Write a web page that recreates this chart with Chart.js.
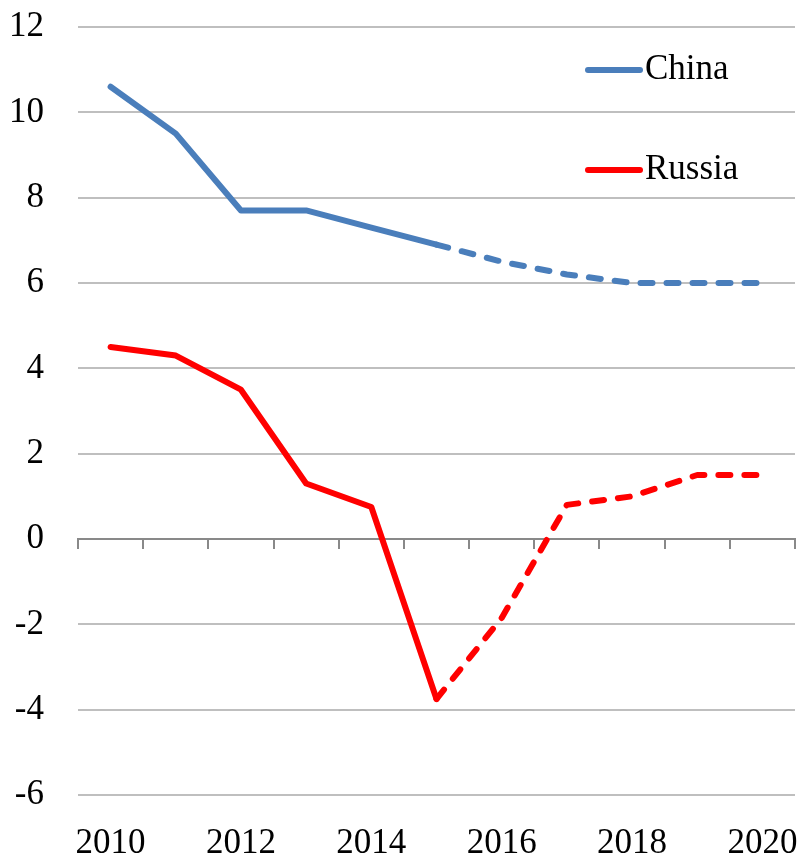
<!DOCTYPE html>
<html>
<head>
<meta charset="utf-8">
<script src="https://cdn.jsdelivr.net/npm/chart.js@4"></script>
<style>
  html, body { margin: 0; padding: 0; background: #fff; }
  #wrap { width: 800px; height: 853px; }
</style>
</head>
<body>
<div id="wrap"><canvas id="chart"></canvas></div>
<script>
const years = ['2010', '2011', '2012', '2013', '2014', '2015', '2016', '2017', '2018', '2019', '2020'];
const china = [10.6, 9.5, 7.7, 7.7, 7.3, 6.9, 6.5, 6.2, 6.0, 6.0, 6.0];
const russia = [4.5, 4.3, 3.5, 1.3, 0.75, -3.75, -1.85, 0.8, 1.0, 1.5, 1.5];
const forecastFrom = 5; // segments after 2015 are dashed

const font = { family: '"Liberation Serif", "DejaVu Serif", serif', size: 35 };

const dashed = ctx => ctx.p0DataIndex >= forecastFrom ? [12, 14] : undefined;

// kill the automatic label paddings so the plot box sits where we want
const noPad = s => {
    s.paddingLeft = 0; s.paddingRight = 0;
    s.paddingTop = 0; s.paddingBottom = 0;
};

// legend drawn inside the plot, top right
const insideLegend = {
    id: 'insideLegend',
    afterDraw(chart) {
        const c = chart.ctx;
        const rows = [70, 170];
        c.save();
        chart.data.datasets.forEach((ds, i) => {
            const y = rows[i];
            c.strokeStyle = ds.borderColor;
            c.lineWidth = 6;
            c.lineCap = 'round';
            c.beginPath();
            c.moveTo(588, y);
            c.lineTo(640, y);
            c.stroke();
            c.fillStyle = '#000';
            c.font = font.size + 'px ' + font.family;
            c.textBaseline = 'middle';
            c.textAlign = 'left';
            c.fillText(ds.label, 645, y);
        });
        c.restore();
    }
};

new Chart(document.getElementById('chart'), {
    type: 'line',
    data: {
        labels: years,
        datasets: [{
            label: 'China',
            data: china,
            borderColor: '#4A7EBB',
            borderWidth: 6,
            borderCapStyle: 'round',
            borderJoinStyle: 'round',
            pointRadius: 0,
            tension: 0,
            segment: { borderDash: dashed }
        }, {
            label: 'Russia',
            data: russia,
            borderColor: '#FF0000',
            borderWidth: 6,
            borderCapStyle: 'round',
            borderJoinStyle: 'round',
            pointRadius: 0,
            tension: 0,
            segment: { borderDash: dashed }
        }]
    },
    options: {
        responsive: true,
        maintainAspectRatio: false,
        animation: false,
        layout: { padding: { left: 12, right: 5, top: 27, bottom: 0 } },
        plugins: {
            legend: { display: false },
            tooltip: { enabled: false }
        },
        scales: {
            x: {
                type: 'category',
                offset: true,
                afterFit: s => { noPad(s); s.height = 58; },
                grid: { display: false },
                border: { display: false },
                ticks: {
                    color: '#000',
                    font: font,
                    padding: 20,
                    autoSkip: false,
                    maxRotation: 0,
                    callback: (v, i) => i % 2 === 0 ? years[i] : ''
                }
            },
            x0: {
                type: 'category',
                labels: years,
                position: { y: 0 },
                offset: true,
                afterFit: noPad,
                grid: {
                    offset: true,
                    drawOnChartArea: false,
                    drawTicks: true,
                    tickLength: 9,
                    color: '#898989',
                    lineWidth: 2
                },
                border: { display: true, color: '#898989', width: 2 },
                ticks: { display: false }
            },
            y: {
                min: -6,
                max: 12,
                afterFit: s => { noPad(s); s.width = 66; },
                ticks: {
                    stepSize: 2,
                    color: '#000',
                    font: font,
                    padding: 34
                },
                grid: { color: '#BFBFBF', lineWidth: 2, drawTicks: false },
                border: { display: false }
            }
        }
    },
    plugins: [insideLegend]
});
</script>
</body>
</html>
